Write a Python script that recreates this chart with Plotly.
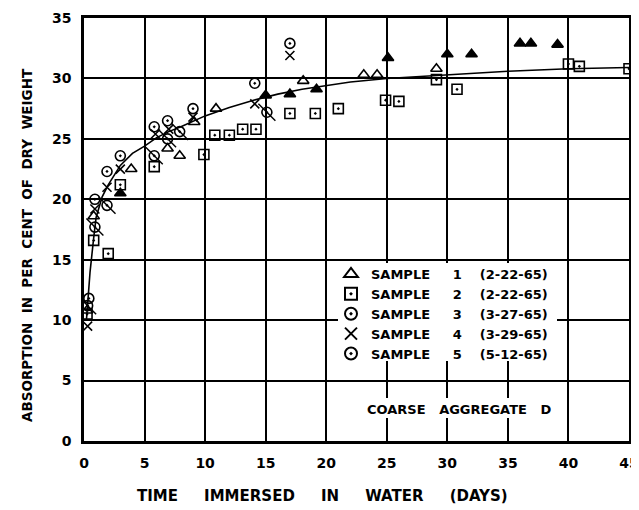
import plotly.graph_objects as go

# ---- data ----
curve_days = [0.2, 0.5, 0.8, 1.0, 1.5, 2.0, 3.0, 4.0, 5.0, 6.0, 7.0, 8.0, 10.0, 12.0,
              14.0, 16.0, 18.0, 20.0, 22.0, 25.0, 30.0, 35.0, 40.0, 45.0]
curve_vals = [10.0, 14.0, 16.8, 18.5, 20.2, 21.2, 22.8, 23.8, 24.4, 25.1, 25.6, 26.0, 26.9, 27.6,
              28.2, 28.7, 29.1, 29.4, 29.7, 30.0, 30.3, 30.6, 30.8, 30.9]

s1_days = [0.25, 0.8, 3.0, 3.9, 6.9, 7.9, 9.1, 10.9, 15.0, 17.0, 18.1, 19.2, 23.1, 24.2,
           25.1, 29.1, 30.0, 32.0, 36.0, 36.9, 39.1]
s1_vals = [10.8, 18.6, 20.5, 22.5, 24.2, 23.6, 26.4, 27.5, 28.6, 28.7, 29.8, 29.1, 30.3, 30.3,
           31.7, 30.8, 32.0, 32.0, 32.9, 32.9, 32.8]
s1_solid = [False, False, True, False, False, False, False, False, True, True, False, True, False, False,
            True, False, True, True, True, True, True]

s2_days = [0.25, 0.8, 2.0, 3.0, 5.8, 9.9, 10.8, 12.0, 13.1, 14.2, 17.0, 19.1, 21.0, 24.9,
           26.0, 29.1, 30.8, 40.0, 40.9, 45.0]
s2_vals = [10.5, 16.6, 15.5, 21.2, 22.7, 23.7, 25.3, 25.3, 25.8, 25.8, 27.1, 27.1, 27.5, 28.2,
           28.1, 29.9, 29.1, 31.2, 31.0, 30.8]

s3_days = [0.4, 0.9, 1.9, 3.0, 5.8, 6.9, 9.0, 14.1, 17.0]
s3_vals = [11.8, 20.0, 22.3, 23.6, 26.0, 26.5, 27.5, 29.6, 32.9]

s4_days = [0.3, 0.9, 1.9, 3.0, 5.9, 7.0, 9.0, 14.1, 17.0]
s4_vals = [9.5, 19.2, 21.0, 22.5, 25.4, 25.8, 26.8, 27.9, 31.9]

s5_days = [0.3, 0.9, 1.9, 5.8, 6.9, 7.9, 15.1]
s5_vals = [11.2, 17.7, 19.5, 23.6, 25.0, 25.6, 27.2]

x_ticks = [0, 5, 10, 15, 20, 25, 30, 35, 40, 45]
y_ticks = [0, 5, 10, 15, 20, 25, 30, 35]

legend_names = [
    ("1", "(2-22-65)"),
    ("2", "(2-22-65)"),
    ("3", "(3-27-65)"),
    ("4", "(3-29-65)"),
    ("5", "(5-12-65)"),
]

NB = "\u00a0"
def lname(num, date):
    return "<b>SAMPLE" + NB * 5 + num + NB * 4 + date + "</b>"

FONT = "DejaVu Sans, Liberation Sans, Arial, sans-serif"

fig = go.Figure()

fig.add_trace(go.Scatter(x=curve_days, y=curve_vals, mode="lines",
                         line=dict(color="black", width=1.6), showlegend=False,
                         hoverinfo="skip"))

tri_symbols = ["triangle-up" if s else "triangle-up-open" for s in s1_solid]
fig.add_trace(go.Scatter(x=s1_days, y=s1_vals, mode="markers", name=lname(*legend_names[0]),
                         marker=dict(symbol=tri_symbols, size=10, color="black",
                                     line=dict(color="black", width=1.6))))
fig.add_trace(go.Scatter(x=s2_days, y=s2_vals, mode="markers", name=lname(*legend_names[1]),
                         marker=dict(symbol="square-open-dot", size=10, color="black",
                                     line=dict(color="black", width=1.6))))
fig.add_trace(go.Scatter(x=s3_days, y=s3_vals, mode="markers", name=lname(*legend_names[2]),
                         marker=dict(symbol="circle-open-dot", size=10, color="black",
                                     line=dict(color="black", width=1.6))))
fig.add_trace(go.Scatter(x=s4_days, y=s4_vals, mode="markers", name=lname(*legend_names[3]),
                         marker=dict(symbol="x-thin-open", size=9, color="black",
                                     line=dict(color="black", width=1.6))))
fig.add_trace(go.Scatter(x=s5_days, y=s5_vals, mode="markers", name=lname(*legend_names[4]),
                         legendgroup="s5",
                         marker=dict(symbol="circle-open-dot", size=10, color="black",
                                     line=dict(color="black", width=1.6))))
fig.add_trace(go.Scatter(x=s5_days, y=s5_vals, mode="markers", showlegend=False,
                         legendgroup="s5",
                         marker=dict(symbol="line-nw-open", size=17, color="black",
                                     line=dict(color="black", width=1.4))))

axis_common = dict(
    showgrid=True, gridcolor="black", gridwidth=2.2,
    showline=True, linecolor="black", linewidth=2.6, mirror=True,
    zeroline=False, ticks="", ticklen=0, automargin=False,
    tickfont=dict(family=FONT, size=14, color="black", weight="bold"),
    fixedrange=True,
)

fig.update_xaxes(range=[0, 45], tickvals=x_ticks, ticktext=[str(t) for t in x_ticks],
                 ticklabelstandoff=7, **axis_common)
fig.update_yaxes(range=[0, 35], tickvals=y_ticks, ticktext=[str(t) for t in y_ticks],
                 ticklabelstandoff=7, **axis_common)

# page offset (browser body margin) compensation
OFF = 8
W, H = 639, 510 - OFF
# plot area in page pixels
PL, PR, PT, PB = 84, 629, 18, 441
L, T = PL - OFF, PT - OFF
R, B = W - (PR - OFF), H - (PB - OFF)
PW, PH = PR - PL, PB - PT

def px(xp):
    return (xp - PL) / PW

def py(yp):
    return (PB - yp) / PH

fig.update_layout(
    width=W, height=H,
    margin=dict(l=L, r=R, t=T, b=B, autoexpand=False),
    paper_bgcolor="white", plot_bgcolor="white",
    font=dict(family=FONT, color="black"),
    showlegend=True,
    legend=dict(x=px(331), y=py(259), xanchor="left", yanchor="top",
                bgcolor="rgba(0,0,0,0)", borderwidth=0,
                font=dict(family=FONT, size=13, color="black"),
                itemsizing="constant", tracegroupgap=0),
    shapes=[
        dict(type="rect", xref="paper", yref="paper", layer="above",
             x0=px(338), x1=px(557), y0=py(361), y1=py(263),
             fillcolor="white", line=dict(width=0)),
        dict(type="rect", xref="paper", yref="paper", layer="above",
             x0=px(358), x1=px(557), y0=py(418), y1=py(398),
             fillcolor="white", line=dict(width=0)),
    ],
    annotations=[
        dict(text="<b>COARSE" + NB * 3 + "AGGREGATE" + NB * 3 + "D</b>",
             xref="paper", yref="paper", x=px(459), y=py(409),
             xanchor="center", yanchor="middle", showarrow=False,
             font=dict(family=FONT, size=13, color="black")),
        dict(text="<b>TIME" + NB * 5 + "IMMERSED" + NB * 5 + "IN" + NB * 5 + "WATER" + NB * 5 + "(DAYS)</b>",
             xref="paper", yref="paper", x=px(322), y=py(496),
             xanchor="center", yanchor="middle", showarrow=False,
             font=dict(family=FONT, size=15, color="black")),
        dict(text="<b>ABSORPTION" + NB * 2 + "IN" + NB * 2 + "PER" + NB * 2 + "CENT" + NB * 2 + "OF" + NB * 2 + "DRY" + NB * 2 + "WEIGHT</b>",
             xref="paper", yref="paper", x=px(27), y=py(245), textangle=-90,
             xanchor="center", yanchor="middle", showarrow=False,
             font=dict(family=FONT, size=13.5, color="black")),
    ],
)

fig.write_html("out.html")
